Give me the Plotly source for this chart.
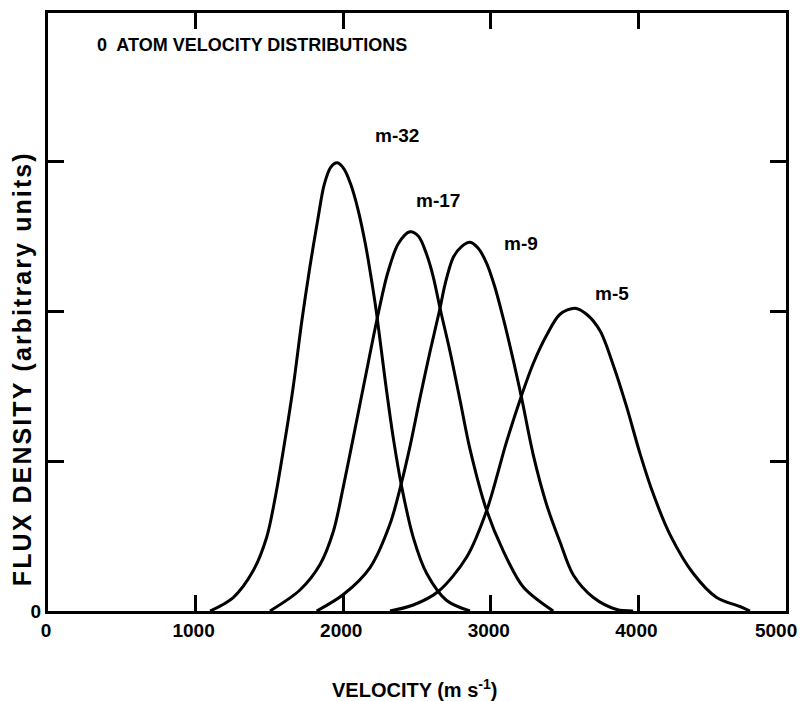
import plotly.graph_objects as go

# Velocity (m/s) and flux density (arbitrary units)
v_m32 = [1098, 1255, 1391, 1481, 1538, 1594, 1662, 1719, 1775, 1831, 1870, 1915, 1960,
         2005, 2050, 2100, 2150, 2190, 2227, 2283, 2340, 2396, 2475, 2566, 2701, 2859]
f_m32 = [0.0, 0.09, 0.27, 0.49, 0.75, 1.07, 1.5, 1.93, 2.3, 2.63, 2.84, 2.96, 2.99,
         2.95, 2.85, 2.68, 2.45, 2.22, 1.98, 1.55, 1.15, 0.83, 0.49, 0.25, 0.07, 0.0]

v_m17 = [1504, 1707, 1843, 1933, 2001, 2069, 2148, 2230, 2300, 2373, 2452, 2510, 2565,
         2610, 2656, 2724, 2791, 2859, 2972, 3085, 3220, 3423]
f_m17 = [0.0, 0.14, 0.31, 0.53, 0.83, 1.16, 1.55, 1.95, 2.25, 2.45, 2.53, 2.5, 2.38,
         2.23, 2.02, 1.73, 1.41, 1.08, 0.67, 0.4, 0.16, 0.0]

v_m9 = [1820, 2001, 2182, 2317, 2396, 2453, 2520, 2588, 2656, 2690, 2746, 2800, 2859,
        2915, 2972, 3028, 3085, 3153, 3209, 3288, 3378, 3469, 3559, 3695, 3853, 3965]
f_m9 = [0.0, 0.11, 0.29, 0.58, 0.86, 1.1, 1.42, 1.73, 2.02, 2.18, 2.36, 2.43, 2.46,
        2.42, 2.32, 2.16, 1.95, 1.67, 1.42, 1.04, 0.71, 0.46, 0.24, 0.09, 0.01, 0.0]

v_m5 = [2317, 2475, 2644, 2837, 2972, 3107, 3209, 3287, 3378, 3469, 3570, 3649, 3740,
        3830, 3921, 4011, 4101, 4214, 4372, 4530, 4688, 4756]
f_m5 = [0.0, 0.04, 0.13, 0.36, 0.67, 1.13, 1.44, 1.65, 1.84, 1.98, 2.02, 1.98, 1.87,
        1.64, 1.36, 1.05, 0.78, 0.51, 0.25, 0.09, 0.03, 0.0]

series = [("m-32", v_m32, f_m32), ("m-17", v_m17, f_m17),
          ("m-9", v_m9, f_m9), ("m-5", v_m5, f_m5)]

# Curve labels (text, velocity, flux)
label_text = ["m-32", "m-17", "m-9", "m-5"]
label_v = [2364, 2642, 3205, 3821]
label_f = [3.17, 2.74, 2.45, 2.12]

x_ticks = [0, 1000, 2000, 3000, 4000, 5000]
x_tick_text = ["0", "1000", "2000", "3000", "4000", "5000"]
y_ticks = [0]
y_tick_text = ["0"]
y_minor_step = 1  # unlabelled tick marks at 1, 2, 3

title_text = "0  ATOM VELOCITY DISTRIBUTIONS"
x_title = "VELOCITY (m s<sup>-1</sup>)"
y_title = "FLUX DENSITY (arbitrary units)"

FONT = "Liberation Sans, Arial, Helvetica, sans-serif"

def spaced(s):
    return "\u200a".join(s)

fig = go.Figure()
for name, v, f in series:
    fig.add_trace(go.Scatter(x=v, y=f, mode="lines", name=name,
                             line=dict(color="black", width=3, shape="spline", smoothing=0.9),
                             showlegend=False, hoverinfo="skip"))

for t, xv, yv in zip(label_text, label_v, label_f):
    fig.add_annotation(x=xv, y=yv, text="<b>" + t + "</b>", showarrow=False,
                       font=dict(family=FONT, size=19, color="black"),
                       xanchor="center", yanchor="middle")

fig.add_annotation(xref="paper", yref="paper", x=0.064, y=0.946, text="<b>" + title_text + "</b>",
                   showarrow=False, xanchor="left", yanchor="middle",
                   font=dict(family=FONT, size=18, color="black"))
fig.add_annotation(xref="paper", yref="paper", x=0.497, y=-0.129, text="<b>" + x_title + "</b>",
                   showarrow=False, xanchor="center", yanchor="middle",
                   font=dict(family=FONT, size=20, color="black"))
fig.add_annotation(xref="paper", yref="paper", x=-0.035, y=0.403, text="<b>" + spaced(y_title) + "</b>",
                   showarrow=False, xanchor="center", yanchor="middle", textangle=-90,
                   font=dict(family=FONT, size=25, color="black"))

axis_common = dict(showline=True, linecolor="black", linewidth=3, mirror="ticks",
                   ticks="inside", ticklen=16, tickwidth=2.5, tickcolor="black",
                   showgrid=False, zeroline=False, automargin=False,
                   tickfont=dict(family=FONT, size=19, color="black"))

x_labels = []
for t in x_tick_text:
    lab = "<b>%s</b>" % t
    if t == "5000":
        lab += "\u00a0\u00a0\u00a0"
    x_labels.append(lab)

fig.update_xaxes(range=[0, 5000], tickvals=x_ticks, ticktext=x_labels,
                 ticklabeloverflow="allow", ticklabelshift=-2, **axis_common)
fig.update_yaxes(range=[0, 3.99], tickvals=y_ticks, ticktext=["<b>%s</b>" % t for t in y_tick_text],
                 minor=dict(ticks="inside", ticklen=16, tickwidth=2.5, tickcolor="black",
                            tick0=0, dtick=y_minor_step, showgrid=False),
                 **axis_common)

fig.update_layout(width=800, height=693, margin=dict(l=40, r=22, t=5, b=90),
                  plot_bgcolor="white", paper_bgcolor="white")

fig.write_html("out.html")
